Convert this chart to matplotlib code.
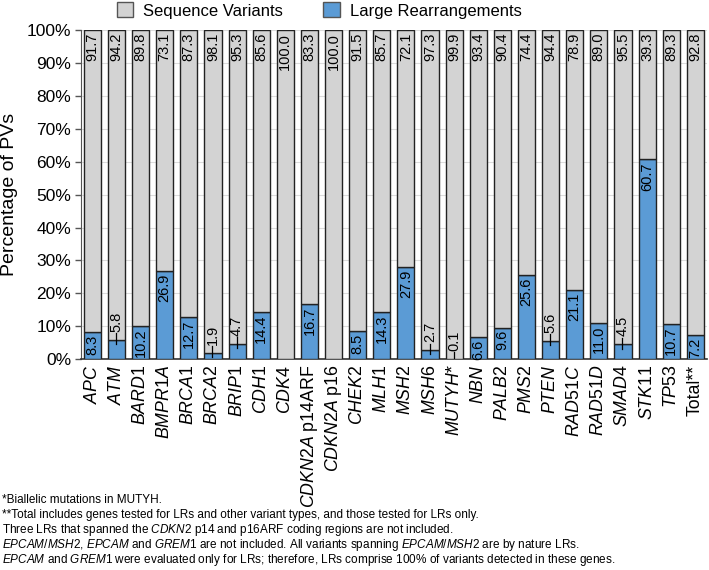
import matplotlib
matplotlib.use("Agg")
import matplotlib.pyplot as plt
from matplotlib.patches import Patch
import numpy as np

plt.rcParams['font.family'] = ['Liberation Sans', 'DejaVu Sans']
plt.rcParams['mathtext.fontset'] = 'custom'
plt.rcParams['mathtext.rm'] = 'Liberation Sans'
plt.rcParams['mathtext.it'] = 'Liberation Sans:italic'

# gene labels (mathtext for the italic parts)
genes = [r'$\mathit{APC}$', r'$\mathit{ATM}$', r'$\mathit{BARD1}$', r'$\mathit{BMPR1A}$',
         r'$\mathit{BRCA1}$', r'$\mathit{BRCA2}$', r'$\mathit{BRIP1}$', r'$\mathit{CDH1}$',
         r'$\mathit{CDK4}$', r'$\mathit{CDKN2A}$ p14ARF', r'$\mathit{CDKN2A}$ p16',
         r'$\mathit{CHEK2}$', r'$\mathit{MLH1}$', r'$\mathit{MSH2}$', r'$\mathit{MSH6}$',
         r'$\mathit{MUTYH}$*', r'$\mathit{NBN}$', r'$\mathit{PALB2}$', r'$\mathit{PMS2}$',
         r'$\mathit{PTEN}$', r'$\mathit{RAD51C}$', r'$\mathit{RAD51D}$', r'$\mathit{SMAD4}$',
         r'$\mathit{STK11}$', r'$\mathit{TP53}$', 'Total**']

seq_variants = [91.7, 94.2, 89.8, 73.1, 87.3, 98.1, 95.3, 85.6, 100.0, 83.3, 100.0,
                91.5, 85.7, 72.1, 97.3, 99.9, 93.4, 90.4, 74.4, 94.4, 78.9, 89.0,
                95.5, 39.3, 89.3, 92.8]
large_rearr = [8.3, 5.8, 10.2, 26.9, 12.7, 1.9, 4.7, 14.4, 0.0, 16.7, 0.0,
               8.5, 14.3, 27.9, 2.7, 0.1, 6.6, 9.6, 25.6, 5.6, 21.1, 11.0,
               4.5, 60.7, 10.7, 7.2]

footnotes = [
    "*Biallelic mutations in MUTYH.",
    "**Total includes genes tested for LRs and other variant types, and those tested for LRs only.",
    r"Three LRs that spanned the $\mathit{CDKN2}$ p14 and p16ARF coding regions are not included.",
    r"$\mathit{EPCAM/MSH2}$, $\mathit{EPCAM}$ and $\mathit{GREM1}$ are not included. All variants spanning $\mathit{EPCAM/MSH2}$ are by nature LRs.",
    r"$\mathit{EPCAM}$ and $\mathit{GREM1}$ were evaluated only for LRs; therefore, LRs comprise 100% of variants detected in these genes.",
]

gray = '#d3d3d3'
blue = '#5b9bd5'
edge = '#222222'

fig = plt.figure(figsize=(7.09, 5.70), dpi=100)
ax = fig.add_axes([0.114, 0.370, 0.883, 0.577])

x = np.arange(len(genes))
lr = np.array(large_rearr)
sv = np.array(seq_variants)
w = 0.71
ax.bar(x, lr, w, color=blue, edgecolor=edge, linewidth=1.0, zorder=3)
ax.bar(x, sv, w, bottom=lr, color=gray, edgecolor=edge, linewidth=1.0, zorder=3)

lab = 10.5
for i in range(len(x)):
    ax.text(x[i], 99.2, f'{sv[i]:.1f}', rotation=90, ha='center', va='top',
            fontsize=lab, zorder=5)
    v = lr[i]
    if v <= 0:
        continue
    if v < 6:
        ax.plot([x[i] - 0.02, x[i] - 0.02], [v - 1.3, v + 2.0], color='black', lw=0.9, zorder=5)
        ax.text(x[i], v + 2.4, f'{v:.1f}', rotation=90, ha='center', va='bottom',
                fontsize=lab, zorder=5)
    else:
        ax.text(x[i], v - 0.8, f'{v:.1f}', rotation=90, ha='center', va='top',
                fontsize=lab, zorder=5)

ax.set_xlim(-0.48, len(genes) - 0.52)
ax.set_ylim(0, 100)
ax.set_yticks(np.arange(0, 101, 10))
ax.set_yticklabels([f'{t}%' for t in range(0, 101, 10)], fontsize=12.5)
ax.set_xticks(x)
ax.set_xticklabels(genes, rotation=90, fontsize=12.8)
ax.tick_params(axis='x', length=0, pad=4)
ax.tick_params(axis='y', length=4, width=1, color='#555555', pad=3)
ax.yaxis.grid(True, color='#dcdcdc', lw=0.8, zorder=0)
ax.set_axisbelow(True)
for s in ['top', 'right']:
    ax.spines[s].set_visible(False)
ax.spines['left'].set_color('#555555')
ax.spines['bottom'].set_color('#333333')
ax.spines['bottom'].set_linewidth(1.2)
ax.set_ylabel('Percentage of PVs', fontsize=14, labelpad=6)

handles = [Patch(facecolor=gray, edgecolor='#555555', label='Sequence Variants'),
           Patch(facecolor=blue, edgecolor='#555555', label='Large Rearrangements')]
fig.legend(handles=handles, loc='upper center', bbox_to_anchor=(0.45, 1.022), ncol=2,
           frameon=False, fontsize=12, handlelength=1.0, handleheight=1.0,
           columnspacing=2.4, handletextpad=0.6)

y0 = 1 - 500 / 570
for k, line in enumerate(footnotes):
    fig.text(0.003, y0 - k * 15 / 570, line, fontsize=8.5, ha='left', va='center')

fig.savefig('out.png', dpi=100)
